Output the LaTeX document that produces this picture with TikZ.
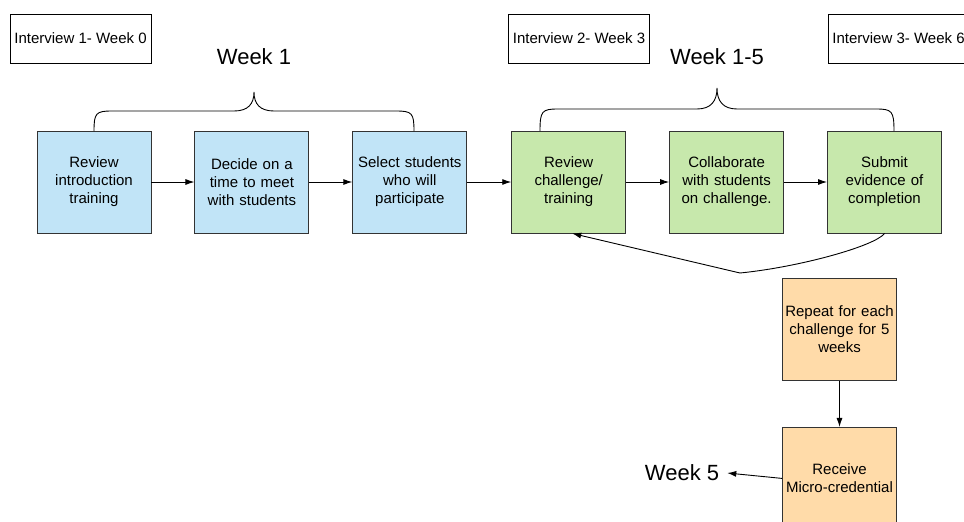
\documentclass[tikz,border=0pt]{standalone}
\usepackage{fontspec}
\setmainfont{Liberation Sans}
\usetikzlibrary{arrows.meta,positioning}
\definecolor{bluefill}{HTML}{C1E4F7}
\definecolor{greenfill}{HTML}{C7E8AC}
\definecolor{orangefill}{HTML}{FFDBA9}
\definecolor{boxedge}{HTML}{333333}
\tikzset{
  stepbox/.style={draw=boxedge, line width=0.9pt, minimum width=114pt, minimum height=102pt,
    text width=112pt, align=center, inner sep=0pt, font=\fontsize{15}{18}\selectfont},
  interview/.style={draw=black, line width=0.9pt, minimum width=141pt, minimum height=49pt,
    inner sep=0pt, font=\fontsize{15}{18}\selectfont},
  weeklabel/.style={font=\fontsize{22}{26}\selectfont},
  flow/.style={-{Latex[length=9pt,width=6pt]}, line width=0.9pt},
  brace/.style={line width=0.9pt}
}
\begin{document}
\begin{tikzpicture}[x=1pt,y=-1pt]
\clip (0,0) rectangle (964,522);

% Interview boxes
\node[interview] (int1) at (80.5,38.5) {Interview 1- Week 0};
\node[interview] (int2) at (579,38.5) {Interview 2- Week 3};
\node[interview] (int3) at (898.5,38.5) {Interview 3- Week 6};

% Week labels
\node[weeklabel] (wk1) at (254,57) {Week 1};
\node[weeklabel] (wk15) at (717,57) {Week 1-5};

% Week 1 steps (blue)
\node[stepbox, fill=bluefill] (intro) at (94,182) {Review\\introduction\\training};
\node[stepbox, fill=bluefill, right=43pt of intro] (meet) {Decide on a\\time to meet\\with students};
\node[stepbox, fill=bluefill, right=43pt of meet] (select) {Select students\\who will\\participate};

% Week 1-5 steps (green)
\node[stepbox, fill=greenfill, right=44pt of select] (chall) {Review\\challenge/\\training};
\node[stepbox, fill=greenfill, right=43pt of chall] (collab) {Collaborate\\with students\\on challenge.};
\node[stepbox, fill=greenfill, right=43pt of collab] (submit) {Submit\\evidence of\\completion};

% Repeat and credential (orange)
\node[stepbox, fill=orangefill] (repeat) at (839.5,329.5) {Repeat for each\\challenge for 5\\weeks};
\node[stepbox, fill=orangefill, below=46pt of repeat] (credential) {Receive\\Micro-credential};
\node[weeklabel, inner xsep=8pt] (wk5) at (682,473) {Week 5};

% Braces
\draw[brace] (94,131) .. controls (94,113) and (96,111) .. (112,111) -- (234,111)
  .. controls (248,111) and (254,104) .. (254,92)
  .. controls (254,104) and (260,111) .. (274,111) -- (396,111)
  .. controls (412,111) and (414,113) .. (414,131);
\draw[brace] (540,131) .. controls (540,111) and (542,109) .. (558,109) -- (697,109)
  .. controls (711,109) and (717,101) .. (717,88)
  .. controls (717,101) and (723,109) .. (737,109) -- (876,109)
  .. controls (892,109) and (894,111) .. (894,131);

% Flow arrows
\draw[flow] (intro) -- (meet);
\draw[flow] (meet) -- (select);
\draw[flow] (select) -- (chall);
\draw[flow] (chall) -- (collab);
\draw[flow] (collab) -- (submit);

% Loop back
\coordinate (loop) at (740,273);
\draw[flow] (submit.south) .. controls (875,246) and (800,267) .. (loop) -- ([xshift=3.5pt]chall.south);

\draw[flow] (repeat) -- (credential);
\draw[flow] (credential.west) -- (wk5.east);
\end{tikzpicture}
\end{document}
